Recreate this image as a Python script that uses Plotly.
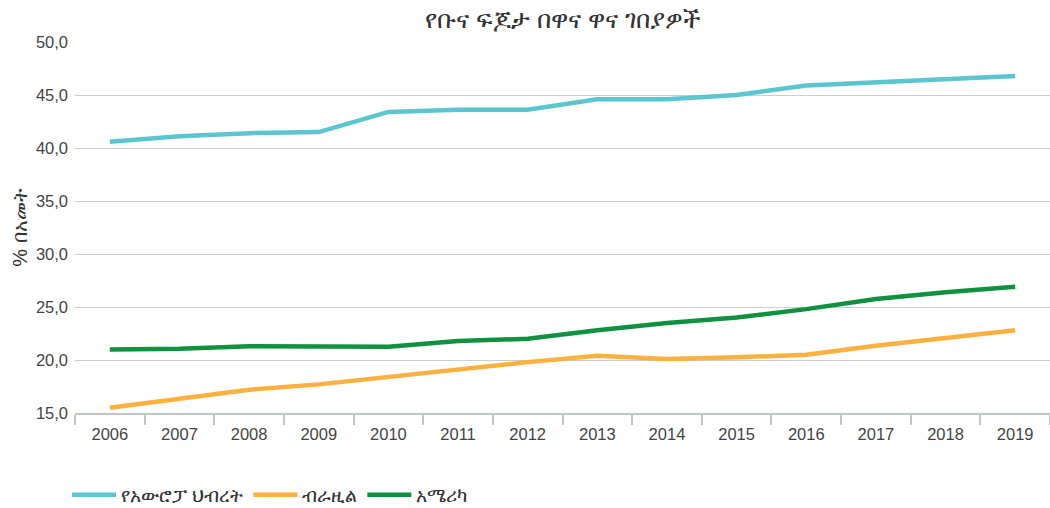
import plotly.graph_objects as go

years = [str(y) for y in range(2006, 2020)]
eu = [40.6, 41.1, 41.4, 41.5, 43.4, 43.6, 43.6, 44.6, 44.6, 45.0, 45.9, 46.2, 46.4, 46.8]
brazil = [15.5, 16.3, 17.2, 17.7, 18.4, 19.15, 19.8, 20.4, 20.1, 20.25, 20.5, 21.35, 22.05, 22.8]
usa = [21.0, 21.05, 21.3, 21.25, 21.25, 21.8, 22.0, 22.8, 23.5, 24.0, 24.8, 25.75, 26.4, 26.9]

names = ["የአውሮፓ ህብረት", "ብራዚል", "አሜሪካ"]
colors = ["#5bc5d0", "#fbb040", "#0f9140"]

fig = go.Figure()
for name, vals, col in zip(names, [eu, brazil, usa], colors):
    fig.add_trace(go.Scatter(x=years, y=vals, mode="lines", name=name,
                             line=dict(color=col, width=4.5)))

font_family = "Helvetica Neue, Arial, Liberation Sans, Noto Sans, sans-serif"
fig.update_layout(
    width=1050, height=508,
    paper_bgcolor="white", plot_bgcolor="white",
    separators=",.",
    font=dict(family=font_family, color="#444", size=16),
    title=dict(text="የቡና ፍጆታ በዋና ዋና ገበያዎች", x=0.536, xanchor="center", y=0.962, yanchor="middle",
               font=dict(size=25, color="#333")),
    margin=dict(l=75, r=0, t=42, b=95, autoexpand=False),
    legend=dict(orientation="h", x=-0.0082, xanchor="left", xref="paper",
                y=0.026, yanchor="middle", yref="container", itemwidth=44,
                font=dict(size=19, color="#333")),
    showlegend=True,
)
fig.update_xaxes(type="category", showgrid=False, showline=True, linecolor="#bfc6c6", linewidth=1.5,
                 ticks="outside", tickson="boundaries", ticklen=10, tickcolor="#bfc6c6", tickwidth=1.5,
                 ticklabelstandoff=5,
                 tickfont=dict(size=16.5, color="#444"), range=[-0.5, 13.5], automargin=False)
fig.update_yaxes(range=[15, 50], dtick=5, tickformat=".1f", showgrid=True, gridcolor="#c8cfcf",
                 gridwidth=1.2, zeroline=False, showline=False, tickfont=dict(size=16.5, color="#444"),
                 automargin=False, ticklabelstandoff=6,
                 title=dict(text="% በአመት", font=dict(size=20, color="#333"), standoff=2))

fig.write_html("out.html", config={"displayModeBar": False},
               post_script="document.body.style.margin='0';")
